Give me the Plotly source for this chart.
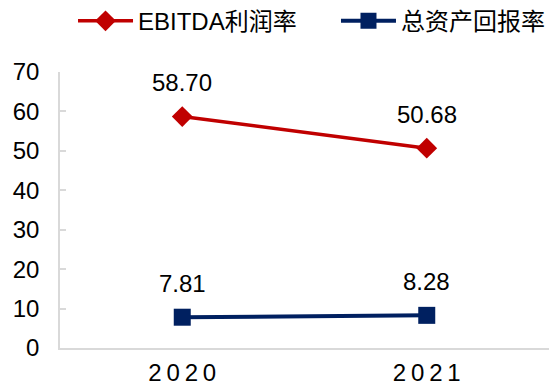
import plotly.graph_objects as go

years = ["2020", "2021"]
ebitda = [58.70, 50.68]
roa = [7.81, 8.28]
ytick_vals = [0, 10, 20, 30, 40, 50, 60, 70]

FONT = "Liberation Sans, Arial, Noto Sans CJK SC"
RED = "#C00000"
NAVY = "#002060"
AXIS = "#D9D9D9"

fig = go.Figure()
fig.add_trace(go.Scatter(
    x=years, y=ebitda, name="EBITDA利润率", mode="lines+markers",
    line=dict(color=RED, width=3.5),
    marker=dict(symbol="diamond", size=16, color=RED),
    cliponaxis=False,
))
fig.add_trace(go.Scatter(
    x=years, y=roa, name="总资产回报率", mode="lines+markers",
    line=dict(color=NAVY, width=4),
    marker=dict(symbol="square", size=17, color=NAVY),
    cliponaxis=False, legend="legend2",
))

for series in (ebitda, roa):
    for i, yv in enumerate(series):
        fig.add_annotation(x=i, y=yv, xref="x", yref="y", text=f"{yv:.2f}",
                           showarrow=False, yshift=34,
                           font=dict(size=24, color="#000000", family=FONT))

legend_common = dict(orientation="h", xref="container", yref="container",
                     xanchor="left", y=0.945, yanchor="middle", itemwidth=55,
                     font=dict(size=24, family=FONT), bgcolor="rgba(0,0,0,0)")

fig.update_layout(
    width=549, height=385,
    margin=dict(l=60, r=0, t=72, b=37, autoexpand=False),
    paper_bgcolor="white", plot_bgcolor="white",
    font=dict(family=FONT, size=24, color="#000000"),
    showlegend=True,
    legend=dict(x=0.133, **legend_common),
    legend2=dict(x=0.612, **legend_common),
    xaxis=dict(type="category", range=[-0.5, 1.5], showgrid=False,
               showline=True, linecolor=AXIS, linewidth=1.5,
               tickvals=years, ticktext=["\u2009".join(y) for y in years],
               ticks="", tickfont=dict(size=24), ticklabelstandoff=2),
    yaxis=dict(range=[0, 70], tickvals=ytick_vals, showgrid=False,
               showline=True, linecolor=AXIS, linewidth=1.5,
               ticks="inside", ticklen=6, tickcolor=AXIS, tickwidth=1.5,
               tickfont=dict(size=24), ticklabelstandoff=14, zeroline=False),
)
fig.write_html("out.html")
